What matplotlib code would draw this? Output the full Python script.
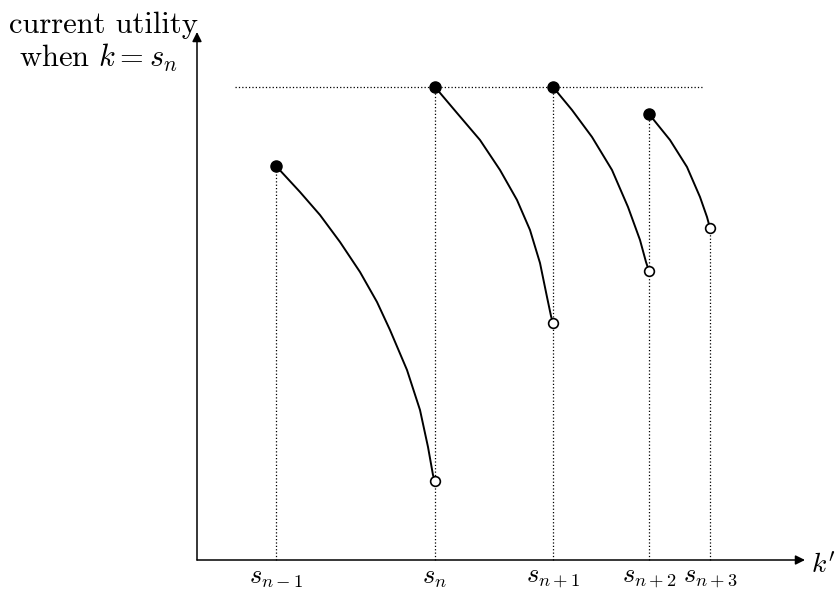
import matplotlib
matplotlib.use("Agg")
import matplotlib.pyplot as plt

plt.rcParams['mathtext.fontset'] = 'cm'
plt.rcParams['font.family'] = ['cmr10', 'DejaVu Serif']
plt.rcParams['axes.formatter.use_mathtext'] = True

# ---- data (k' positions and utility values, in arbitrary units) ----
s_labels = [r'$s_{n-1}$', r'$s_n$', r'$s_{n+1}$', r'$s_{n+2}$', r'$s_{n+3}$']
s_pos = [79, 238, 356, 452, 513]

seg1_x = [79, 103, 123, 143, 163, 180, 193, 210, 223, 231, 236, 238]
seg1_y = [394, 368, 345, 318, 288, 258, 230, 190, 150, 113, 85, 79]
seg2_x = [238, 260, 283, 303, 320, 333, 343, 350, 354, 356]
seg2_y = [473, 447, 420, 390, 360, 330, 297, 263, 244, 237]
seg3_x = [356, 375, 395, 415, 431, 443, 449, 452]
seg3_y = [473, 450, 423, 390, 353, 320, 298, 289]
seg4_x = [452, 473, 490, 503, 510, 513]
seg4_y = [446, 420, 393, 363, 343, 332]

max_level = 473
max_line_x = [38, 505]

x_axis_end = 608
y_axis_end = 528

segments = [(seg1_x, seg1_y), (seg2_x, seg2_y), (seg3_x, seg3_y), (seg4_x, seg4_y)]

fig = plt.figure(figsize=(8.38, 5.93), dpi=100)
ax = fig.add_axes([0, 0, 1, 1])
ax.set_xlim(-197, 641)
ax.set_ylim(-33, 560)
ax.axis('off')

dot_kw = dict(color='black', lw=0.9, linestyle=(0, (1, 1.7)))

# vertical dotted lines from top of each point down to the axis
for xp in s_pos:
    ys = []
    for sx, sy in segments:
        for a, b in zip(sx, sy):
            if a == xp:
                ys.append(b)
    ax.plot([xp, xp], [0, max(ys)], **dot_kw, zorder=1)

# horizontal dotted line at the maximum
ax.plot(max_line_x, [max_level, max_level], **dot_kw, zorder=1)

# curves
for sx, sy in segments:
    ax.plot(sx, sy, color='black', lw=1.4, solid_joinstyle='round',
            solid_capstyle='round', zorder=2)
    ax.plot(sx[0], sy[0], 'o', ms=8, color='black', zorder=3)
    ax.plot(sx[-1], sy[-1], 'o', ms=7, mfc='white', mec='black', mew=1.2, zorder=3)

# axes with arrows
arrow_kw = dict(arrowstyle='-|>', lw=1.1, color='black', mutation_scale=14,
                shrinkA=0, shrinkB=0)
ax.annotate('', xy=(x_axis_end, 0), xytext=(0, 0), arrowprops=arrow_kw)
ax.annotate('', xy=(0, y_axis_end), xytext=(0, 0), arrowprops=arrow_kw)

# labels
for xp, lab in zip(s_pos, s_labels):
    ax.text(xp, -6, lab, ha='center', va='top', fontsize=19)
ax.text(626, -14, r"$k'$", ha='center', va='baseline', fontsize=20)
ax.text(-94, 527, 'current utility', ha='center', va='baseline', fontsize=22)
ax.text(-99, 493, r'when $k = s_n$', ha='center', va='baseline', fontsize=22)

fig.savefig('out.png', dpi=100)
